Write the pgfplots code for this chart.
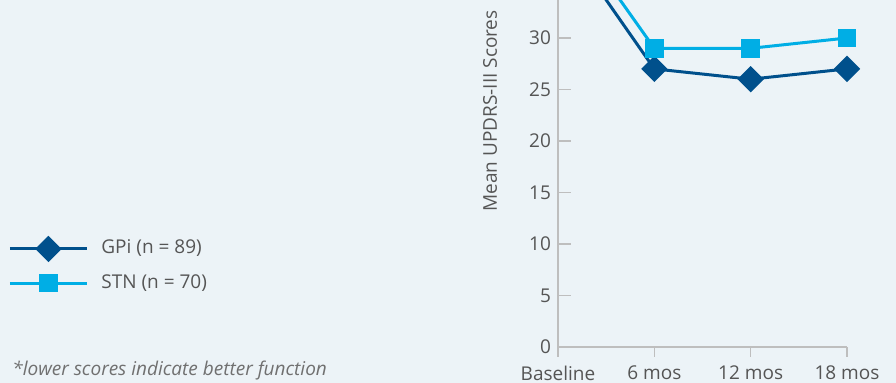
\documentclass[border=0pt]{standalone}
\usepackage{pgfplots}
\pgfplotsset{compat=1.18}
\usepackage{fontspec}
\setmainfont{Open Sans}

\definecolor{bgpanel}{HTML}{ECF3F7}
\definecolor{gpiblue}{HTML}{00508C}
\definecolor{stnblue}{HTML}{00AEE5}
\definecolor{axisgray}{HTML}{BEBEBE}
\definecolor{labelgray}{HTML}{555555}
\definecolor{notegray}{HTML}{707070}

% Mean UPDRS-III scores by visit (0 = baseline, 1 = 6 mos, 2 = 12 mos, 3 = 18 mos)
\pgfplotstableread{
visit score
0 40.4
1 27.0
2 26.0
3 27.0
}\gpidata
\pgfplotstableread{
visit score
0 42.2
1 29.0
2 29.0
3 30.0
}\stndata

\begin{document}
\begin{tikzpicture}
\useasboundingbox (0,0) rectangle (448pt,191.5pt);
\fill[bgpanel] (0,0) rectangle (448pt,191.5pt);
\clip (0,0) rectangle (448pt,191.5pt);

\begin{axis}[
  at={(279pt,18pt)}, anchor=south west,
  scale only axis,
  width=144.5pt, height=173.5pt,
  xmin=0, xmax=3, ymin=0, ymax=33.69,
  clip=false,
  axis x line=bottom, axis y line=left,
  axis line style={axisgray, line width=0.8pt, -},
  xtick={0,1,2,3},
  xticklabels={Baseline, 6 mos, 12 mos, 18 mos},
  ytick={0,5,...,30},
  xtick align=outside, ytick align=inside,
  xtick style={axisgray, line width=0.8pt, /pgfplots/major tick length=5pt},
  ytick style={axisgray, line width=0.8pt, /pgfplots/major tick length=6.5pt},
  tick label style={font=\fontsize{9.5}{11}\selectfont, text=labelgray},
  /pgf/number format/assume math mode=true,
  xticklabel style={yshift=-1.5pt},
  legend style={at={(-1.9031,0.2363)}, anchor=west, draw=none, fill=none,
    inner sep=0pt, row sep=7pt,
    font=\fontsize{9.5}{11}\selectfont, text=labelgray,
    nodes={inner sep=0pt, text height=7pt, text depth=2pt}},
  legend cell align=left,
  /tikz/every odd column/.append style={column sep=6.5pt},
  legend image code/.code={%
    \draw[mark repeat=2, mark phase=2, #1]
      plot coordinates {(0pt,0pt) (19.25pt,0pt) (38.5pt,0pt)};},
]
\addplot[gpiblue, line width=1.5pt, mark=square*, mark size=3.9pt,
  mark options={rotate=45, draw=none, fill=gpiblue}]
  table[x=visit, y=score] {\gpidata};
\addlegendentry{GPi (n = 89)}
\addplot[stnblue, line width=1.5pt, mark=square*, mark size=3.9pt,
  mark options={draw=none, fill=stnblue}]
  table[x=visit, y=score] {\stndata};
\addlegendentry{STN (n = 70)}
\end{axis}

\node[rotate=90, font=\fontsize{9.5}{11}\selectfont, text=labelgray]
  at (245pt,136pt) {Mean UPDRS-III Scores};
\node[anchor=base west, font=\fontsize{9.5}{11}\selectfont\itshape, text=notegray, inner sep=0pt]
  at (6pt,3.5pt) {*lower scores indicate better function};
\end{tikzpicture}
\end{document}
